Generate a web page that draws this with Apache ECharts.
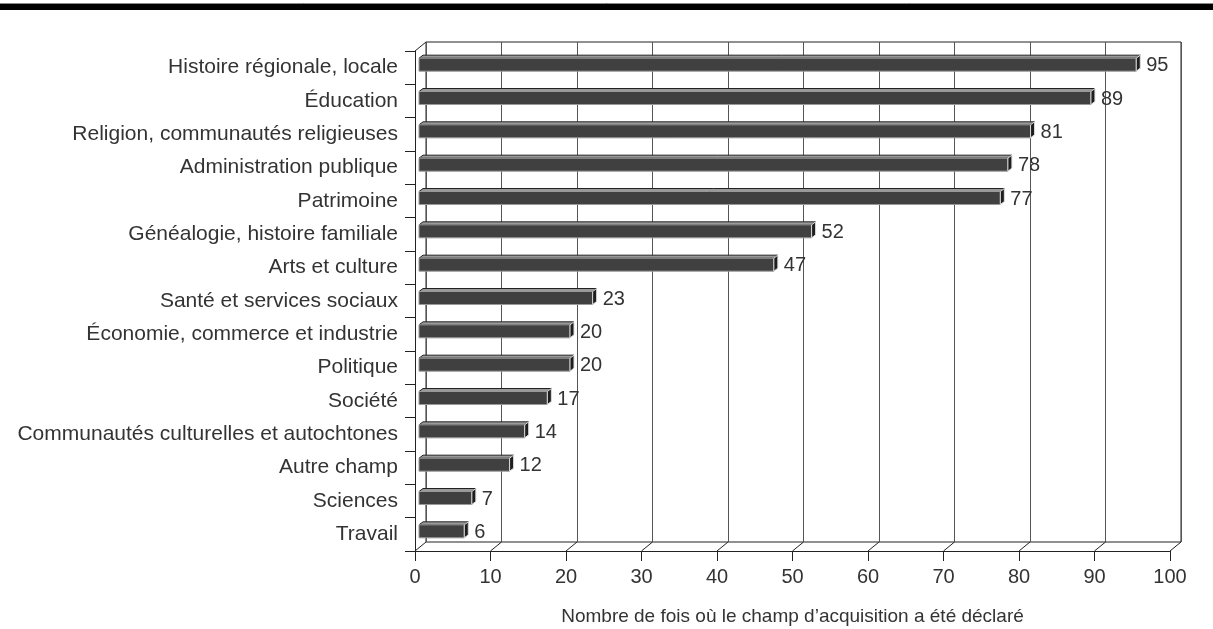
<!DOCTYPE html>
<html>
<head>
<meta charset="utf-8">
<script src="https://cdn.jsdelivr.net/npm/echarts@6/dist/echarts.min.js"></script>
<style>html,body{margin:0;padding:0;background:#fff;}#c{width:1213px;height:629px;}</style>
</head>
<body>
<div id="c"></div>
<script>
const categories = [
  "Histoire régionale, locale",
  "Éducation",
  "Religion, communautés religieuses",
  "Administration publique",
  "Patrimoine",
  "Généalogie, histoire familiale",
  "Arts et culture",
  "Santé et services sociaux",
  "Économie, commerce et industrie",
  "Politique",
  "Société",
  "Communautés culturelles et autochtones",
  "Autre champ",
  "Sciences",
  "Travail"
];
const values = [95, 89, 81, 78, 77, 52, 47, 23, 20, 20, 17, 14, 12, 7, 6];
const xTicks = [0, 10, 20, 30, 40, 50, 60, 70, 80, 90, 100];
const axisTitle = "Nombre de fois où le champ d’acquisition a été déclaré";

const FONT = "Liberation Sans";
const TXT = "#333";
const DX = 11, DY = 9; // depth of the 3D box

const chart = echarts.init(document.getElementById('c'));

function barItem(params, api) {
  const i = api.value(0);
  const v = api.value(1);
  const c0 = api.coord([0, i]);
  const c1 = api.coord([v, i]);
  const bx = 4, by = -3; // bar sits at mid-depth
  const h = 13, tdx = 4, tdy = 3;
  const x = c0[0] + bx, y = c0[1] + by - h / 2;
  const w = c1[0] - c0[0];
  return {
    type: 'group',
    children: [
      { type: 'polygon', shape: { points: [[x, y], [x + tdx, y - tdy], [x + w + tdx, y - tdy], [x + w, y]] },
        style: { fill: '#9a9a9a', stroke: '#222', lineWidth: 1 } },
      { type: 'rect', shape: { x: x, y: y, width: w, height: h },
        style: { fill: '#404040', stroke: '#999', lineWidth: 1 } },
      { type: 'polygon', shape: { points: [[x + w, y], [x + w + tdx, y - tdy], [x + w + tdx, y - tdy + h], [x + w, y + h]] },
        style: { fill: '#1e1e1e', stroke: '#ddd', lineWidth: 1 } },
      { type: 'text', x: x + w + tdx + 6, y: y + h / 2 + 1,
        style: { text: String(v), fill: TXT, font: '20px "' + FONT + '"', align: 'left', verticalAlign: 'middle' } }
    ]
  };
}

function depthItem(params, api) {
  const v = api.value(0);
  const cs = params.coordSys;
  const x = api.coord([v, 0])[0];
  const yb = cs.y + cs.height;
  const children = [
    { type: 'line', shape: { x1: x, y1: yb, x2: x + DX, y2: yb - DY }, style: { stroke: '#222', lineWidth: 1 } }
  ];
  if (params.dataIndex === 0) {
    children.push({ type: 'line', shape: { x1: x, y1: cs.y, x2: x + DX, y2: cs.y - DY }, style: { stroke: '#222', lineWidth: 1 } });
  }
  return { type: 'group', children: children };
}

const option = {
  animation: false,
  backgroundColor: '#fff',
  textStyle: { fontFamily: FONT },
  graphic: [
    { type: 'rect', shape: { x: 0, y: 3, width: 1213, height: 7 }, style: { fill: '#000' } },
    { type: 'line', shape: { x1: 0, y1: 3.5, x2: 1213, y2: 3.5 }, style: { stroke: '#888', lineWidth: 1 } }
  ],
  grid: [
    { left: 426, right: 32, top: 42, bottom: 87, show: true, borderColor: '#222', borderWidth: 1,
      backgroundColor: 'transparent', containLabel: false, outerBoundsMode: 'none' },
    { left: 415, right: 43, top: 51, bottom: 78, containLabel: false, outerBoundsMode: 'none' }
  ],
  xAxis: [
    { gridIndex: 0, type: 'value', min: 0, max: 100, interval: 10,
      axisLine: { show: false }, axisTick: { show: false }, axisLabel: { show: false },
      splitLine: { show: true, lineStyle: { color: '#555', width: 1 } } },
    { gridIndex: 1, type: 'value', min: 0, max: 100, interval: 10,
      axisLine: { show: true, lineStyle: { color: '#222', width: 1 } },
      axisTick: { show: true, length: 10, lineStyle: { color: '#222' } },
      splitLine: { show: false },
      axisLabel: { color: TXT, fontSize: 20, margin: 16, fontFamily: FONT,
        formatter: function (v) { return xTicks.indexOf(v) >= 0 ? String(v) : ''; } },
      name: axisTitle, nameLocation: 'middle', nameGap: 56,
      nameTextStyle: { color: TXT, fontSize: 19, fontFamily: FONT } }
  ],
  yAxis: [
    { gridIndex: 0, type: 'category', data: categories, inverse: true, show: false },
    { gridIndex: 1, type: 'category', data: categories, inverse: true,
      axisLine: { show: true, lineStyle: { color: '#222', width: 1 } },
      axisTick: { show: true, length: 10, lineStyle: { color: '#222' } },
      axisLabel: { color: TXT, fontSize: 21, margin: 17, fontFamily: FONT } }
  ],
  series: [
    { type: 'custom', xAxisIndex: 1, yAxisIndex: 1, renderItem: depthItem,
      data: xTicks.map(function (t) { return [t]; }), silent: true, z: 1 },
    { type: 'custom', xAxisIndex: 1, yAxisIndex: 1, renderItem: barItem,
      data: values.map(function (v, i) { return [i, v]; }), z: 5 }
  ]
};
chart.setOption(option);
</script>
</body>
</html>
